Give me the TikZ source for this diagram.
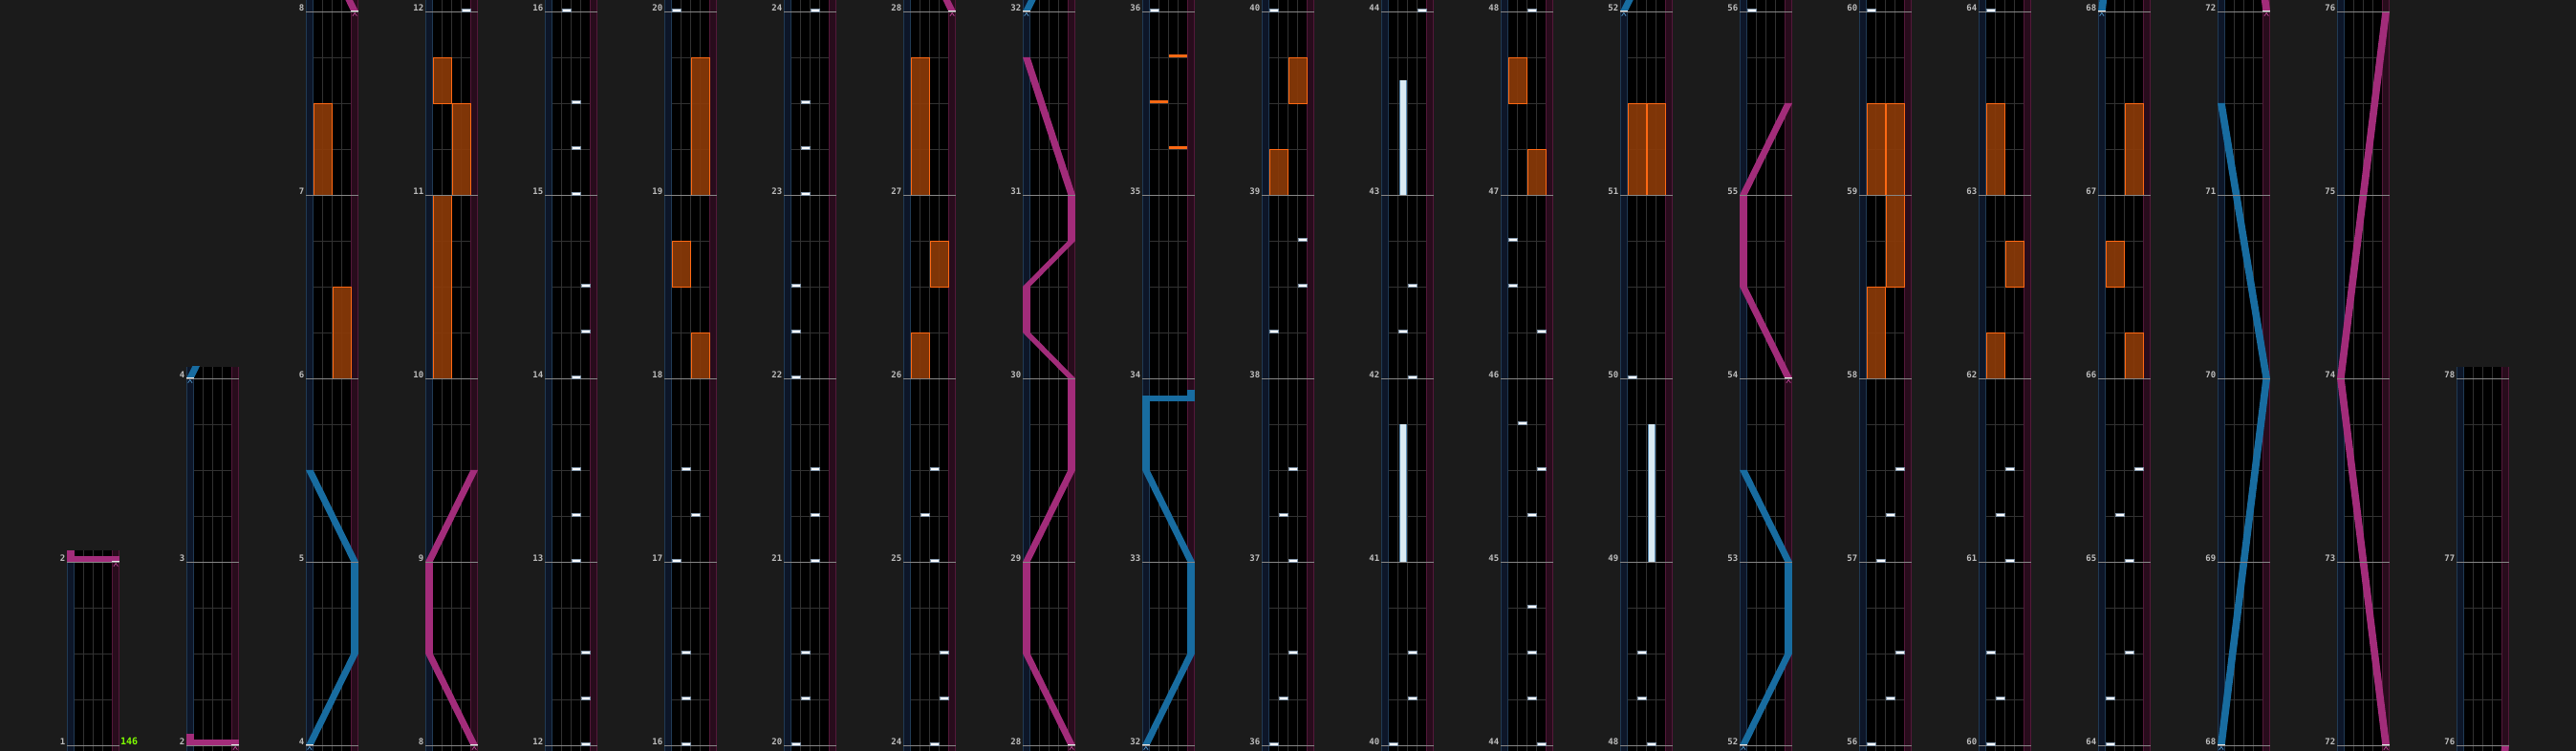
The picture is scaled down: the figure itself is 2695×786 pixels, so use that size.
\documentclass[tikz,border=0pt]{standalone}
\usepackage{fontspec}
\newfontfamily\lblfont{DejaVu Sans Mono}
\definecolor{bg}{RGB}{27,27,27}
\definecolor{bluelane}{RGB}{13,22,40}
\definecolor{bluelaneb}{RGB}{32,58,84}
\definecolor{pinklane}{RGB}{40,12,28}
\definecolor{pinklaneb}{RGB}{84,24,58}
\definecolor{gridc}{RGB}{50,50,50}
\definecolor{measc}{RGB}{135,135,135}
\definecolor{lblc}{RGB}{190,190,190}
\definecolor{fxfill}{RGB}{138,58,8}
\definecolor{fxedge}{RGB}{255,105,20}
\definecolor{lblue}{RGB}{24,108,160}
\definecolor{lpink}{RGB}{162,44,122}
\definecolor{chevb}{RGB}{80,150,200}
\definecolor{chevp}{RGB}{190,70,150}
\definecolor{bpmc}{RGB}{128,255,0}
\definecolor{longc}{RGB}{218,234,242}
\definecolor{longe}{RGB}{90,140,180}
\definecolor{chipe}{RGB}{130,150,170}
\tikzset{
  lbl/.style={anchor=base east, inner sep=0pt, text=lblc, font=\lblfont\bfseries\fontsize{9}{9}\selectfont},
  bpm/.style={anchor=base west, inner sep=0pt, text=bpmc, font=\lblfont\bfseries\fontsize{10}{10}\selectfont},
  gridline/.style={draw=gridc, line width=0.8pt},
  measline/.style={draw=measc, line width=0.9pt},
}
% notes, in global beat time T = 4*measure + beat
\newcommand\bt[2]{\filldraw[fill=white,draw=chipe,line width=0.4pt] ({7.5+10*(#1-1)+0.5},{#2}) rectangle ({7.5+10*(#1-1)+9.3},{#2+0.068});}
\newcommand\bts[1]{\foreach \ln/\tm in {#1}{\bt{\ln}{\tm}}}
\newcommand\btl[3]{\fill[longc] ({7.5+10*(#1-1)+1.5},{#2}) rectangle ({7.5+10*(#1-1)+8.5},{#3});
  \draw[longe,line width=0.7pt] ({7.5+10*(#1-1)+1.6},{#2}) -- ({7.5+10*(#1-1)+1.6},{#3}) ({7.5+10*(#1-1)+8.4},{#2}) -- ({7.5+10*(#1-1)+8.4},{#3});}
\newcommand\fx[3]{\filldraw[fill=fxfill,fill opacity=0.92,draw=fxedge,line width=0.7pt] ({7.7+20*#1+0.4},{#2}) rectangle ({26.9+20*#1},{#3});}
\newcommand\fxc[2]{\fill[fxedge] ({7.7+20*#1+0.5},{#2}) rectangle ({26.9+20*#1},{#2+0.07});}
\newcommand\lseg[5]{\fill[#1] ({47.3*#2},{#3}) -- ({47.3*#2+7.7},{#3}) -- ({47.3*#4+7.7},{#5}) -- ({47.3*#4},{#5}) -- cycle;}
\newcommand\laser[2]{\foreach \p/\t [remember=\p as \lp (initially 9), remember=\t as \lt (initially 0)] in {#2}{\ifdim\lp pt<5pt \lseg{#1}{\lp}{\lt}{\p}{\t}\fi}}
\newcommand\slam[4]{\fill[#1] ({47.3*min(#2,#3)},{#4}) rectangle ({47.3*max(#2,#3)+7.7},{#4+0.125});}
\newcommand\lstart[3]{\fill[white!85!gray] ({47.3*#2},{#3-0.012}) rectangle ({47.3*#2+7.7},{#3+0.02});
  \draw[#1,line width=0.7pt] ({47.3*#2+1.6},{#3-0.1}) -- ({47.3*#2+3.85},{#3-0.03}) -- ({47.3*#2+6.1},{#3-0.1});}
\newcommand\chart{%
  % FX holds
  \fx{1}{24}{26}\fx{0}{28}{30}
  \fx{0}{40}{44}\fx{1}{44}{46}\fx{0}{46}{47}
  \fx{1}{72}{73}\fx{0}{74}{75}\fx{1}{76}{79}
  \fx{0}{104}{105}\fx{1}{106}{107}\fx{0}{108}{111}
  \fxc{1}{141}\fxc{0}{142}\fxc{1}{143}
  \fx{0}{156}{157}\fx{1}{158}{159}
  \fx{1}{188}{189}\fx{0}{190}{191}
  \fx{0}{204}{206}\fx{1}{204}{206}
  \fx{0}{232}{234}\fx{1}{234}{236}\fx{0}{236}{238}\fx{1}{236}{238}
  \fx{0}{248}{249}\fx{1}{250}{251}\fx{0}{252}{254}
  \fx{1}{264}{265}\fx{0}{266}{267}\fx{1}{268}{270}
  % BT longs
  \btl{2}{164}{167}\btl{2}{172}{174.5}\btl{3}{196}{199}
  % lasers
  \laser{lpink}{0/8,0/8.25}\slam{lpink}{1}{0}{8}\lstart{chevp}{1}{8}
  \laser{lblue}{0/16,1/18,1/20,0/22}\lstart{chevb}{0}{16}
  \laser{lpink}{1/32,0/34,0/36,1/38}\lstart{chevp}{1}{32}
  \laser{lpink}{1/112,0/114,0/116,1/118,1/120,0/121,0/122,1/123,1/124,0/127}\lstart{chevp}{1}{112}
  \laser{lblue}{0/128,1/130,1/132,0/134,0/135.5}\slam{lblue}{0}{1}{135.5}\laser{lblue}{1/135.5,1/135.75}\lstart{chevb}{0}{128}
  \laser{lblue}{0/208,1/210,1/212,0/214}\lstart{chevb}{0}{208}
  \laser{lpink}{1/216,0/218,0/220,1/222}\lstart{chevp}{1}{216}
  \laser{lblue}{0/272,1/280,0/286}\lstart{chevb}{0}{272}
  \laser{lpink}{1/288,0/296,1/304}\lstart{chevp}{1}{288}
}
\newcommand\chips{%
  \bts{4/48,4/49,4/50,3/52,3/53,3/54,3/56,4/57,4/58,3/60,3/61,3/62,2/64}
  \bts{2/65,2/66,1/68,3/69,2/70}
  \bts{1/80,2/81,2/82,3/84,3/85,3/86,1/88,1/89,1/90,2/92,2/93,2/94,3/96}
  \bts{4/97,4/98,3/100,2/101,3/102}
  \bts{1/144,2/145,3/146,3/148,2/149,3/150,1/153,4/154,4/155,1/160}
  \bts{3/161,3/162,3/168,2/169,3/170,4/176}
  \bts{3/177,3/178,3/179,3/181,4/182,2/183,4/185,1/186,1/187,3/192}
  \bts{2/193,2/194,1/200}
  \bts{1/224,3/225,4/226,2/228,3/229,4/230,1/240}
  \bts{2/241,1/242,3/244,2/245,3/246,1/256}
  \bts{1/257,3/258,3/260,2/261,4/262}
}
\begin{document}
\begin{tikzpicture}[x=1pt,y=1pt]
\fill[bg] (0,0) rectangle (2695,786);
\useasboundingbox (0,0) rectangle (2695,786);
\foreach \k/\mb/\n in {0/1/1,1/2/2,2/4/4,3/8/4,4/12/4,5/16/4,6/20/4,7/24/4,8/28/4,9/32/4,10/36/4,11/40/4,12/44/4,13/48/4,14/52/4,15/56/4,16/60/4,17/64/4,18/68/4,19/72/4,20/76/2}{
  \pgfmathsetmacro\lo{4*\mb-0.125}
  \pgfmathsetmacro\hi{4*(\mb+\n)+0.25}
  \pgfmathtruncatemacro\bfirst{4*\mb}
  \pgfmathtruncatemacro\bsecond{4*\mb+1}
  \pgfmathtruncatemacro\blast{4*(\mb+\n)}
  \begin{scope}[xshift={(70+125*\k)*1pt}, yshift={(6-192*\mb)*1pt}, y=48pt]
    \clip (0,\lo) rectangle (55,\hi);
    \fill[black] (0,\lo) rectangle (55,\hi);
    \fill[bluelane] (0,\lo) rectangle (7.7,\hi);
    \fill[pinklane] (47.3,\lo) rectangle (55,\hi);
    \draw[bluelaneb,line width=0.9pt] (0.45,\lo) -- (0.45,\hi) (7.25,\lo) -- (7.25,\hi);
    \draw[pinklaneb,line width=0.9pt] (47.75,\lo) -- (47.75,\hi) (54.55,\lo) -- (54.55,\hi);
    \foreach \b in {\bfirst,\bsecond,...,\blast}{\draw[gridline] (7.7,\b) -- (47.3,\b);}
    \draw[gridline] (17.5,\lo) -- (17.5,\hi) (27.5,\lo) -- (27.5,\hi) (37.5,\lo) -- (37.5,\hi);
    \chart
    \foreach \i in {0,...,\n}{\draw[measline] (0,{4*(\mb+\i)}) -- (55,{4*(\mb+\i)});}
    \chips
  \end{scope}
  \foreach \i in {0,...,\n}{
    \pgfmathtruncatemacro\mm{\mb+\i}
    \node[lbl] (L\k-\i) at ({70+125*\k-1.6},{6+192*\i+0.6}) {\mm};
  }
}
\node[bpm] (bpm) at (126,6.6) {146};
\end{tikzpicture}
\end{document}
